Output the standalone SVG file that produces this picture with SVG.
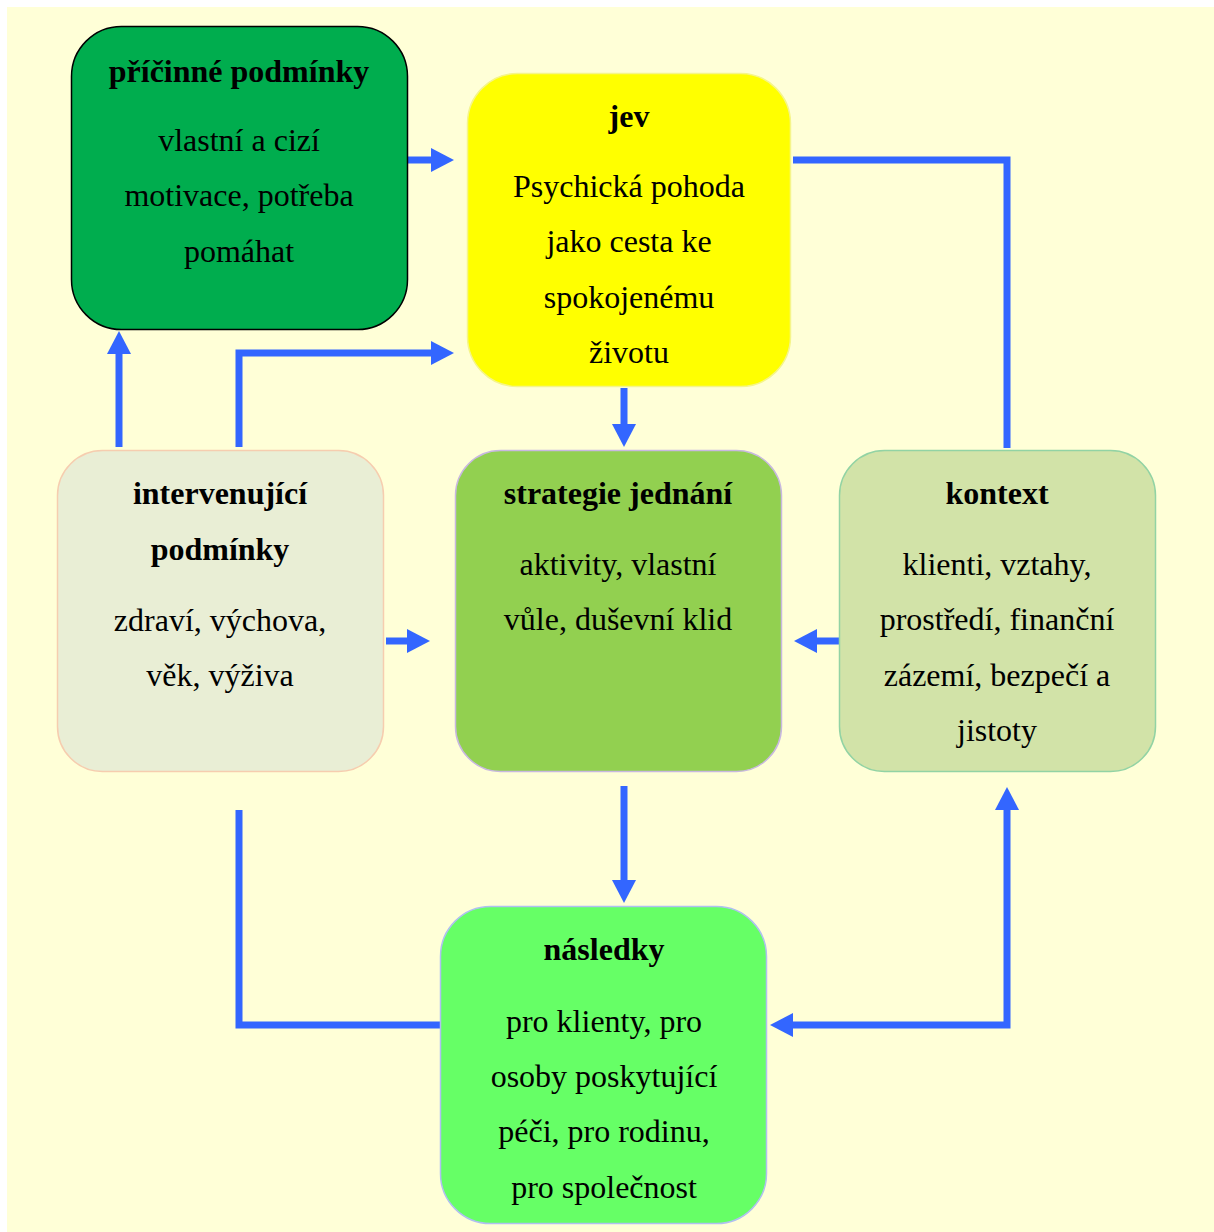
<svg xmlns="http://www.w3.org/2000/svg" width="1214" height="1232" viewBox="0 0 1214 1232">
<defs>
<style>
text{font-family:"Liberation Serif","Times New Roman",serif;font-size:32px;fill:#000;text-anchor:middle}
.t{font-weight:bold}
.c{fill:none;stroke:#3366FF;stroke-width:7;stroke-linejoin:miter}
</style>
<marker id="ah" markerUnits="userSpaceOnUse" viewBox="0 0 23 24" refX="1" refY="12" markerWidth="23" markerHeight="24" orient="auto-start-reverse">
<path d="M0,0 L23,12 L0,24 z" fill="#3366FF"/>
</marker>
</defs>
<rect x="0" y="0" width="1214" height="1232" fill="#ffffff"/>
<rect x="7" y="7" width="1207" height="1225" fill="#FFFFD7"/>
<g id="connectors">
<path class="c" d="M408,160 H432" marker-end="url(#ah)"/>
<path class="c" d="M239,447 V353 H432" marker-end="url(#ah)"/>
<path class="c" d="M119,447 V353" marker-end="url(#ah)"/>
<path class="c" d="M624,388 V425" marker-end="url(#ah)"/>
<path class="c" d="M793,160 H1007 V448"/>
<path class="c" d="M386,641 H408" marker-end="url(#ah)"/>
<path class="c" d="M839,641 H816" marker-end="url(#ah)"/>
<path class="c" d="M624,786 V881" marker-end="url(#ah)"/>
<path class="c" d="M239,810 V1025 H440"/>
<path class="c" d="M792,1025 H1007 V809" marker-start="url(#ah)" marker-end="url(#ah)"/>
</g>
<g id="pricinne">
<rect x="71.5" y="26.5" width="336" height="303" rx="50" fill="#00AD4E" stroke="#000" stroke-width="1.5"/>
<text class="t" x="239" y="82">příčinné podmínky</text>
<text x="239" y="151">vlastní a cizí</text>
<text x="239" y="206">motivace, potřeba</text>
<text x="239" y="262">pomáhat</text>
</g>
<g id="jev">
<rect x="467.5" y="73.5" width="323" height="313" rx="50" fill="#FFFF00" stroke="#F5F58A" stroke-width="1.5"/>
<text class="t" x="629" y="127">jev</text>
<text x="629" y="197">Psychická pohoda</text>
<text x="629" y="252">jako cesta ke</text>
<text x="629" y="308">spokojenému</text>
<text x="629" y="363">životu</text>
</g>
<g id="intervenujici">
<rect x="57.5" y="450.5" width="326" height="321" rx="45" fill="#E9EED5" stroke="#F6CDAF" stroke-width="1.5"/>
<text class="t" x="220" y="504">intervenující</text>
<text class="t" x="220" y="560">podmínky</text>
<text x="220" y="631">zdraví, výchova,</text>
<text x="220" y="686">věk, výživa</text>
</g>
<g id="strategie">
<rect x="455.5" y="450.5" width="326" height="321" rx="45" fill="#92D050" stroke="#C8B8E0" stroke-width="1.5"/>
<text class="t" x="618" y="504">strategie jednání</text>
<text x="618" y="575">aktivity, vlastní</text>
<text x="618" y="630">vůle, duševní klid</text>
</g>
<g id="kontext">
<rect x="839.5" y="450.5" width="316" height="321" rx="45" fill="#D2E3A8" stroke="#92D3A4" stroke-width="1.5"/>
<text class="t" x="997" y="504">kontext</text>
<text x="997" y="575">klienti, vztahy,</text>
<text x="997" y="630">prostředí, finanční</text>
<text x="997" y="686">zázemí, bezpečí a</text>
<text x="997" y="741">jistoty</text>
</g>
<g id="nasledky">
<rect x="440.5" y="906.5" width="326" height="317" rx="50" fill="#66FF66" stroke="#AFC0F0" stroke-width="1.5"/>
<text class="t" x="604" y="960">následky</text>
<text x="604" y="1032">pro klienty, pro</text>
<text x="604" y="1087">osoby poskytující</text>
<text x="604" y="1142">péči, pro rodinu,</text>
<text x="604" y="1198">pro společnost</text>
</g>
</svg>
